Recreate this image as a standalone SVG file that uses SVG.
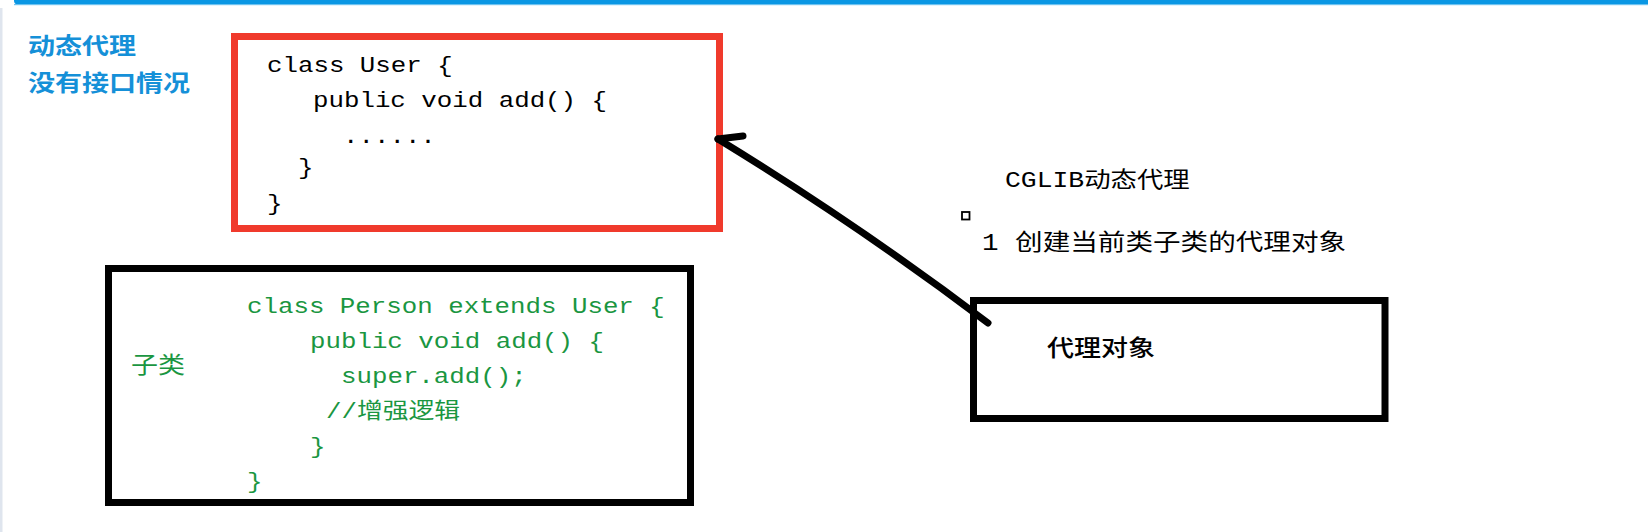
<svg xmlns="http://www.w3.org/2000/svg" width="1648" height="532" viewBox="0 0 1648 532">
<style>
.code{font-family:"Liberation Mono","Noto Sans CJK SC",monospace;font-size:21.5px;}
.cjk{font-family:"Noto Sans CJK SC","Liberation Sans",sans-serif;font-size:22.5px;}
.k{fill:#000;}
.g{fill:#1a9641;}
.b{fill:#1590d8;font-weight:bold;}
.box{fill:none;stroke:#000;stroke-width:7;}
.conn{fill:none;stroke:#000;stroke-width:7;stroke-linecap:round;stroke-linejoin:round;}
</style>
<rect x="0" y="0" width="1648" height="532" fill="#fff"/>
<g id="frame">
<rect x="14" y="-4" width="1640" height="8.5" rx="4" fill="#0a97e4"/>
<rect x="14" y="4" width="1634" height="1.2" fill="#6cc2f0"/>
<rect x="0" y="8" width="2.5" height="524" fill="#dfe5ee"/>
</g>
<g id="title">
<text class="cjk b" transform="translate(28,53.5) scale(1.2,1)">动态代理</text>
<text class="cjk b" transform="translate(28,90.5) scale(1.2,1)">没有接口情况</text>
</g>
<g id="user-class">
<rect x="234.5" y="36.5" width="485" height="192" fill="none" stroke="#f03a2c" stroke-width="7"/>
<text class="code k" transform="translate(267,72) scale(1.2,1)">class User {</text>
<text class="code k" transform="translate(313,107) scale(1.2,1)">public void add() {</text>
<text class="code k" transform="translate(343,143) scale(1.2,1)">......</text>
<text class="code k" transform="translate(298,174) scale(1.2,1)">}</text>
<text class="code k" transform="translate(267,210) scale(1.2,1)">}</text>
</g>
<g id="person-class">
<rect class="box" x="108.5" y="268.5" width="582" height="234"/>
<text class="cjk g" transform="translate(131,373) scale(1.2,1)">子类</text>
<text class="code g" transform="translate(247,313) scale(1.2,1)">class Person extends User {</text>
<text class="code g" transform="translate(310,348) scale(1.2,1)">public void add() {</text>
<text class="code g" transform="translate(341,383) scale(1.2,1)">super.add();</text>
<text class="code g" transform="translate(326,418) scale(1.2,1)">//增强逻辑</text>
<text class="code g" transform="translate(310,453) scale(1.2,1)">}</text>
<text class="code g" transform="translate(247,488) scale(1.2,1)">}</text>
</g>
<g id="cglib-note">
<text class="code k" style="font-size:22px" transform="translate(1005,187) scale(1.2,1)">CGLIB动态代理</text>
<rect x="962" y="212" width="7.5" height="7.5" fill="none" stroke="#000" stroke-width="1.8"/>
<text class="code k" style="font-size:23px" transform="translate(982,250) scale(1.2,1)">1 创建当前类子类的代理对象</text>
</g>
<g id="proxy-object">
<rect class="box" x="973.5" y="300.5" width="411.5" height="118"/>
<text class="cjk k" style="font-weight:500" transform="translate(1047,356) scale(1.2,1)">代理对象</text>
</g>
<g id="connectors">
<path class="conn" d="M988,323 Q860,226 718,139"/>
<path class="conn" d="M718,139 L743,136"/>
</g>
</svg>
